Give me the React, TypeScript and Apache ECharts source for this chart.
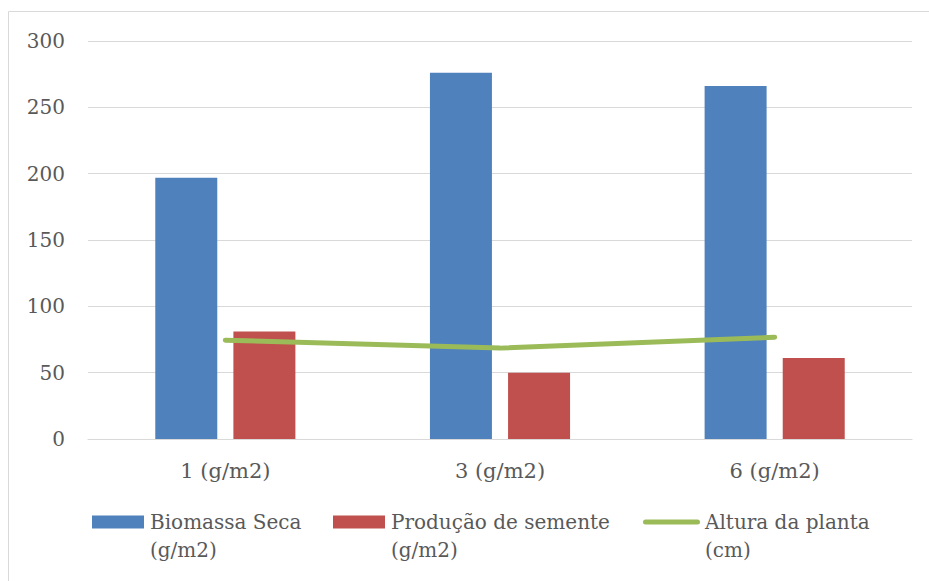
import React, { useEffect, useRef } from "react";
import * as echarts from "echarts";

// Categories and series values
const categories = ["1 (g/m2)", "3 (g/m2)", "6 (g/m2)"];
const biomassaSeca = [197, 276, 266];
const producaoSemente = [81, 50, 61];
const alturaPlanta = [74.5, 68.5, 76.7];

const yTicks = { min: 0, max: 300, interval: 50 };

const seriesNames = {
  biomassa: "Biomassa Seca (g/m2)",
  producao: "Produção de semente (g/m2)",
  altura: "Altura da planta (cm)",
};
const legendLabels: Record<string, string> = {
  [seriesNames.biomassa]: "Biomassa Seca\n(g/m2)",
  [seriesNames.producao]: "Produção de semente\n(g/m2)",
  [seriesNames.altura]: "Altura da planta\n(cm)",
};

const BLUE = "#4F81BD";
const RED = "#C0504D";
const GREEN = "#9BBB59";
const TEXT = "#595959";
const GRID = "#d9d9d9";
const FONT = "DejaVu Serif";

// Legend swatches sit at the top of a taller item box so that they line up
// with the first line of the two-line legend texts.
const ITEM_H = 41;
const rectIcon = `path://M0,0L52,0L52,13L0,13ZM0,${ITEM_H}L53,${ITEM_H}`;
const lineIcon = `path://M2.5,4L54.5,4A2.5,2.5,0,0,1,54.5,9L2.5,9A2.5,2.5,0,0,1,2.5,4ZM0,0L0,0M0,${ITEM_H}L57,${ITEM_H}`;

function legendFor(name: string, left: number, icon: string, color: string, itemWidth: number) {
  return {
    data: [{ name, icon, itemStyle: { color, borderWidth: 0 } }],
    left,
    top: 508,
    padding: 0,
    itemWidth,
    itemHeight: ITEM_H,
    selectedMode: false,
    itemStyle: { borderWidth: 0 },
    formatter: (n: string) => legendLabels[n] ?? n,
    textStyle: { fontFamily: FONT, fontSize: 20, color: TEXT, lineHeight: 28 },
  };
}

export default function App() {
  const ref = useRef<HTMLDivElement>(null);

  useEffect(() => {
    if (!ref.current) return;
    const chart = echarts.init(ref.current, null, { renderer: "svg" });
    chart.setOption({
      animation: false,
      backgroundColor: "#ffffff",
      textStyle: { fontFamily: FONT },
      graphic: [
        {
          type: "rect",
          shape: { x: 8.5, y: 11.5, width: 1000, height: 1000 },
          style: { fill: "none", stroke: GRID, lineWidth: 1 },
          silent: true,
          z: -10,
        },
      ],
      grid: { left: 88, right: 17, top: 41, bottom: 142, containLabel: false },
      legend: [
        legendFor(seriesNames.biomassa, 92, rectIcon, BLUE, 53),
        legendFor(seriesNames.producao, 333, rectIcon, RED, 53),
        legendFor(seriesNames.altura, 643, lineIcon, GREEN, 57),
      ],
      xAxis: {
        type: "category",
        data: categories,
        axisLine: { show: true, lineStyle: { color: GRID, width: 1 } },
        axisTick: { show: false },
        axisLabel: { fontFamily: FONT, fontSize: 21, color: TEXT, margin: 21 },
      },
      yAxis: {
        type: "value",
        min: yTicks.min,
        max: yTicks.max,
        interval: yTicks.interval,
        axisLine: { show: false },
        axisTick: { show: false },
        splitLine: { lineStyle: { color: GRID, width: 1 } },
        axisLabel: { fontFamily: FONT, fontSize: 20, color: TEXT, margin: 23 },
      },
      series: [
        {
          name: seriesNames.biomassa,
          type: "bar",
          data: biomassaSeca,
          barWidth: 62,
          barGap: "26%",
          itemStyle: { color: BLUE },
        },
        {
          name: seriesNames.producao,
          type: "bar",
          data: producaoSemente,
          barWidth: 62,
          barGap: "26%",
          itemStyle: { color: RED },
        },
        {
          name: seriesNames.altura,
          type: "line",
          data: alturaPlanta,
          symbol: "none",
          lineStyle: { color: GREEN, width: 5, cap: "round", join: "round" },
          itemStyle: { color: GREEN },
          z: 3,
        },
      ],
    });
    return () => chart.dispose();
  }, []);

  return (
    <div
      ref={ref}
      style={{ position: "fixed", left: 0, top: 0, width: 929, height: 581, background: "#fff" }}
    />
  );
}
